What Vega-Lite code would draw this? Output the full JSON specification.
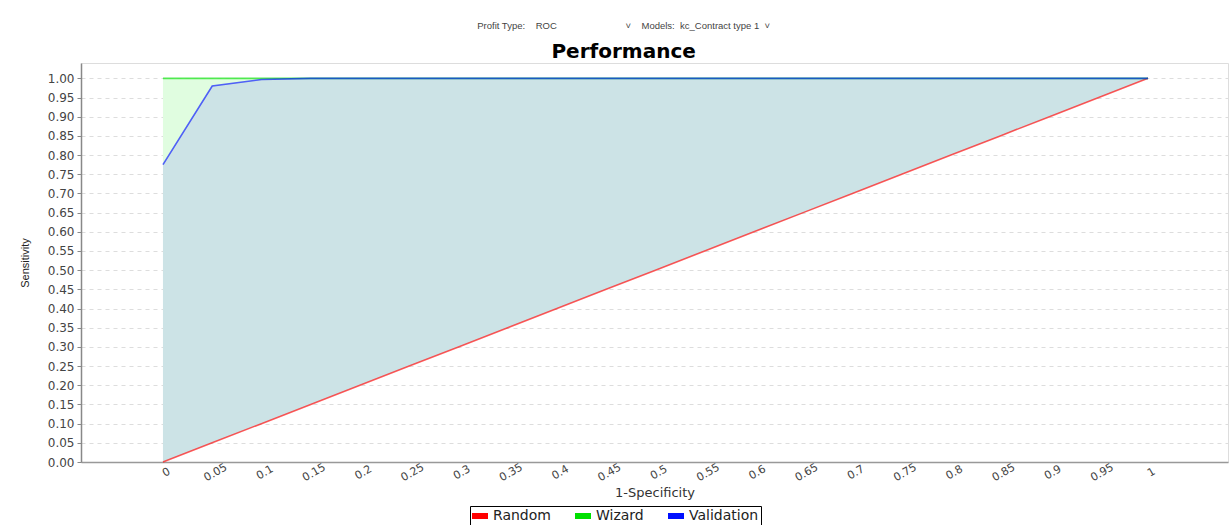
{
  "$schema": "https://vega.github.io/schema/vega-lite/v6.json",
  "width": 1147,
  "height": 399,
  "autosize": {"type": "none"},
  "padding": {"left": 81, "top": 63, "right": 1, "bottom": 63},
  "background": "white",
  "title": {
    "text": "Profit Type:\u00a0\u00a0\u00a0\u00a0ROC\u00a0\u00a0\u00a0\u00a0\u00a0\u00a0\u00a0\u00a0\u00a0\u00a0\u00a0\u00a0\u00a0\u00a0\u00a0\u00a0\u00a0\u00a0\u00a0\u00a0\u00a0\u00a0\u00a0\u00a0\u00a0\u00a0˅\u00a0\u00a0\u00a0\u00a0Models:\u00a0\u00a0kc_Contract type 1\u00a0\u00a0˅",
    "subtitle": "Performance",
    "anchor": "middle",
    "frame": "bounds",
    "font": "Liberation Sans",
    "fontSize": 9.5,
    "fontWeight": "normal",
    "color": "#444444",
    "subtitleFont": "DejaVu Sans",
    "subtitleFontSize": 20,
    "subtitleFontWeight": "bold",
    "subtitleColor": "#000000",
    "subtitlePadding": 12,
    "offset": 1
  },
  "data": {
    "values": [
      {"spec": 0, "Random": 0, "Wizard": 1, "Validation": 0.775},
      {"spec": 0.05, "Random": 0.05, "Wizard": 1, "Validation": 0.98},
      {"spec": 0.1, "Random": 0.1, "Wizard": 1, "Validation": 0.997},
      {"spec": 0.15, "Random": 0.15, "Wizard": 1, "Validation": 1},
      {"spec": 0.2, "Random": 0.2, "Wizard": 1, "Validation": 1},
      {"spec": 0.25, "Random": 0.25, "Wizard": 1, "Validation": 1},
      {"spec": 0.3, "Random": 0.3, "Wizard": 1, "Validation": 1},
      {"spec": 0.35, "Random": 0.35, "Wizard": 1, "Validation": 1},
      {"spec": 0.4, "Random": 0.4, "Wizard": 1, "Validation": 1},
      {"spec": 0.45, "Random": 0.45, "Wizard": 1, "Validation": 1},
      {"spec": 0.5, "Random": 0.5, "Wizard": 1, "Validation": 1},
      {"spec": 0.55, "Random": 0.55, "Wizard": 1, "Validation": 1},
      {"spec": 0.6, "Random": 0.6, "Wizard": 1, "Validation": 1},
      {"spec": 0.65, "Random": 0.65, "Wizard": 1, "Validation": 1},
      {"spec": 0.7, "Random": 0.7, "Wizard": 1, "Validation": 1},
      {"spec": 0.75, "Random": 0.75, "Wizard": 1, "Validation": 1},
      {"spec": 0.8, "Random": 0.8, "Wizard": 1, "Validation": 1},
      {"spec": 0.85, "Random": 0.85, "Wizard": 1, "Validation": 1},
      {"spec": 0.9, "Random": 0.9, "Wizard": 1, "Validation": 1},
      {"spec": 0.95, "Random": 0.95, "Wizard": 1, "Validation": 1},
      {"spec": 1, "Random": 1, "Wizard": 1, "Validation": 1}
    ]
  },
  "encoding": {
    "x": {
      "field": "spec", "type": "quantitative",
      "scale": {"domain": [-0.0832, 1.0812], "nice": false, "zero": false},
      "axis": {
        "values": [0, 0.05, 0.1, 0.15, 0.2, 0.25, 0.3, 0.35, 0.4, 0.45, 0.5, 0.55, 0.6, 0.65, 0.7, 0.75, 0.8, 0.85, 0.9, 0.95, 1],
        "format": "~g",
        "labelAngle": -30,
        "labelAlign": "center",
        "labelBaseline": "top",
        "labelPadding": 5,
        "labelOverlap": false,
        "labelFont": "DejaVu Sans",
        "labelFontSize": 11,
        "labelColor": "#444444",
        "ticks": false,
        "grid": false,
        "domainColor": "#999999",
        "domainWidth": 1.5,
        "title": "1-Specificity",
        "titleFont": "DejaVu Sans",
        "titleFontSize": 13,
        "titleFontWeight": "normal",
        "titleColor": "#333333",
        "titlePadding": 4
      }
    }
  },
  "layer": [
    {
      "mark": {"type": "area", "color": "#cce3e6", "opacity": 1},
      "encoding": {
        "y": {
          "field": "Validation", "type": "quantitative",
          "scale": {"domain": [0, 1.04], "nice": false},
          "axis": {
            "values": [0, 0.05, 0.1, 0.15, 0.2, 0.25, 0.3, 0.35, 0.4, 0.45, 0.5, 0.55, 0.6, 0.65, 0.7, 0.75, 0.8, 0.85, 0.9, 0.95, 1],
            "format": ".2f",
            "labelOverlap": false,
            "labelFont": "DejaVu Sans",
            "labelFontSize": 12,
            "labelColor": "#444444",
            "labelPadding": 3,
            "tickSize": 4,
            "tickColor": "#888888",
            "grid": true,
            "gridDash": [4, 4],
            "gridColor": "#dddddd",
            "domainColor": "#888888",
            "domainWidth": 1.5,
            "title": "Sensitivity",
            "titleFont": "Liberation Sans",
            "titleFontSize": 11,
            "titleFontWeight": "normal",
            "titleColor": "#222222",
            "titlePadding": 17
          }
        },
        "y2": {"field": "Random"}
      }
    },
    {
      "mark": {"type": "area", "color": "#e0fde0", "opacity": 1},
      "encoding": {
        "y": {
          "field": "Wizard", "type": "quantitative",
          "axis": {
            "values": [0, 0.05, 0.1, 0.15, 0.2, 0.25, 0.3, 0.35, 0.4, 0.45, 0.5, 0.55, 0.6, 0.65, 0.7, 0.75, 0.8, 0.85, 0.9, 0.95, 1],
            "format": ".2f",
            "labelOverlap": false,
            "labelFont": "DejaVu Sans",
            "labelFontSize": 12,
            "labelColor": "#444444",
            "labelPadding": 3,
            "tickSize": 4,
            "tickColor": "#888888",
            "grid": true,
            "gridDash": [4, 4],
            "gridColor": "#dddddd",
            "domainColor": "#888888",
            "domainWidth": 1.5,
            "title": "Sensitivity",
            "titleFont": "Liberation Sans",
            "titleFontSize": 11,
            "titleFontWeight": "normal",
            "titleColor": "#222222",
            "titlePadding": 17
          }
        },
        "y2": {"field": "Validation"}
      }
    },
    {
      "transform": [{"fold": ["Random", "Wizard", "Validation"], "as": ["series", "val"]}],
      "mark": {"type": "line", "strokeWidth": 1.6, "opacity": 0.65},
      "encoding": {
        "y": {
          "field": "val", "type": "quantitative",
          "axis": {
            "values": [0, 0.05, 0.1, 0.15, 0.2, 0.25, 0.3, 0.35, 0.4, 0.45, 0.5, 0.55, 0.6, 0.65, 0.7, 0.75, 0.8, 0.85, 0.9, 0.95, 1],
            "format": ".2f",
            "labelOverlap": false,
            "labelFont": "DejaVu Sans",
            "labelFontSize": 12,
            "labelColor": "#444444",
            "labelPadding": 3,
            "tickSize": 4,
            "tickColor": "#888888",
            "grid": true,
            "gridDash": [4, 4],
            "gridColor": "#dddddd",
            "domainColor": "#888888",
            "domainWidth": 1.5,
            "title": "Sensitivity",
            "titleFont": "Liberation Sans",
            "titleFontSize": 11,
            "titleFontWeight": "normal",
            "titleColor": "#222222",
            "titlePadding": 17
          }
        },
        "color": {
          "field": "series", "type": "nominal",
          "scale": {"domain": ["Random", "Wizard", "Validation"], "range": ["#ff0000", "#00e000", "#0010ff"]},
          "legend": {
            "title": null,
            "orient": "none",
            "legendX": 389,
            "legendY": 443,
            "direction": "horizontal",
            "strokeColor": "#000000",
            "padding": 2,
            "symbolType": "M-1,-0.375H1V0.375H-1Z",
            "symbolSize": 256,
            "symbolOpacity": 1,
            "symbolStrokeWidth": 0,
            "labelFont": "DejaVu Sans",
            "labelFontSize": 14,
            "labelColor": "#222222",
            "labelOffset": 5,
            "columnPadding": 24,
            "encode": {
              "symbols": {"update": {"fill": {"scale": "color", "field": "value"}, "fillOpacity": {"value": 1}}}
            }
          }
        }
      }
    }
  ],
  "config": {
    "view": {"stroke": "#dddddd"}
  }
}
